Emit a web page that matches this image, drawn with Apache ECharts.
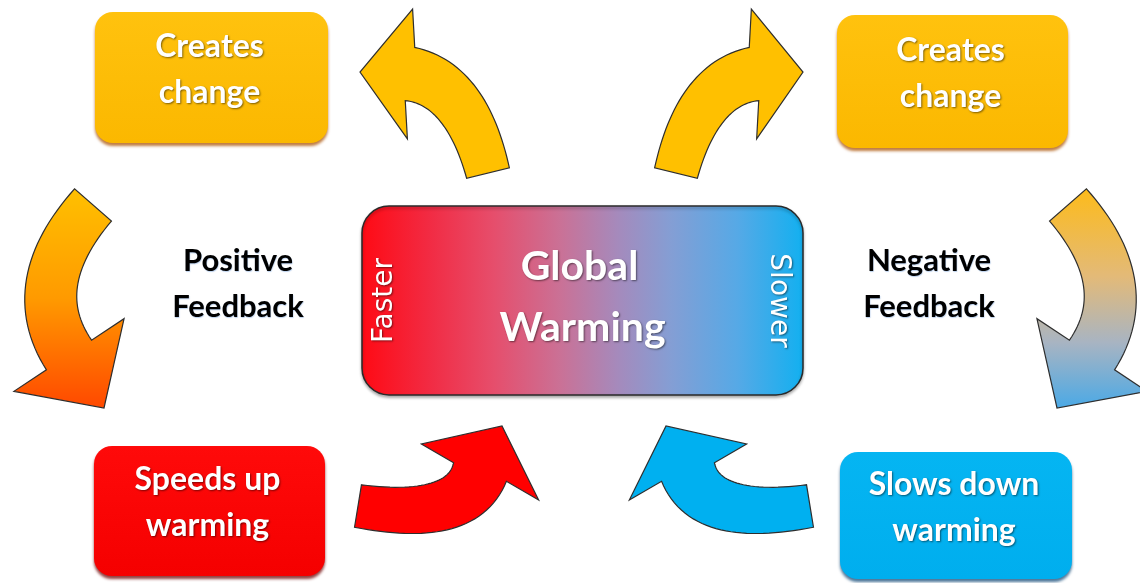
<!DOCTYPE html>
<html>
<head>
<meta charset="utf-8">
<title>Global warming feedback</title>
<script src="https://cdn.jsdelivr.net/npm/echarts@6/dist/echarts.min.js"></script>
<style>
  html, body { margin: 0; padding: 0; background: #fff; }
  #chart { width: 1140px; height: 583px; }
</style>
</head>
<body>
<div id="chart"></div>
<script>
  // texts of the diagram
  var boxLabels = [["Creates", "change"], ["Creates", "change"], ["Speeds up", "warming"], ["Slows down", "warming"]];
  var centreLabel = ["Global", "Warming"];
  var speedLabels = ["Faster", "Slower"];
  var loopLabels = [["Positive", "Feedback"], ["Negative", "Feedback"]];
  var arrowNames = ["toChangeLeft", "toChangeRight", "downLeft", "downRight", "speedsUp", "slowsDown"];

  // layout, in diagram units (one unit = one pixel of the 1140x583 page)
  var boxLayout = [
    { x: 95, y: 12, w: 233, h: 131, theme: "orange" },
    { x: 837, y: 15, w: 231, h: 133, theme: "orange" },
    { x: 94, y: 446, w: 231, h: 130, theme: "red" },
    { x: 840, y: 452, w: 232, h: 127, theme: "blue" }
  ];
  var centreLayout = { x: 362, y: 206, w: 441, h: 189 };
  var loopLayout = [{ x: 238, y: 261 }, { x: 929, y: 261 }];
  var arrowLayout = [
    { p0: [488, 173], p1: [466, 84], p2: [410, 74], tip: [360, 72], w0: 44, w1: 54, hw: 65, fill: "orange" },
    { p0: [676, 173], p1: [698, 84], p2: [754, 74], tip: [803, 72], w0: 44, w1: 54, hw: 65, fill: "orange" },
    { p0: [93, 205], p1: [23, 285], p2: [69, 355], tip: [104, 408], w0: 49, w1: 54, hw: 66, fill: "hot" },
    { p0: [1068, 205], p1: [1138, 285], p2: [1092, 355], tip: [1057, 408], w0: 49, w1: 54, hw: 66, fill: "mixed" },
    { p0: [358, 506], p1: [462, 523], p2: [480, 472], tip: [502, 426], w0: 43, w1: 56, hw: 65, fill: "red" },
    { p0: [810, 506], p1: [706, 523], p2: [688, 472], tip: [666, 426], w0: 43, w1: 56, hw: 65, fill: "blue" }
  ];

  var G = echarts.graphic;
  var themes = {
    orange: { top: "#FFC20E", bottom: "#FBB800", shadow: "rgba(170,80,0,0.75)" },
    red: { top: "#FF0A0A", bottom: "#F50000", shadow: "rgba(110,0,0,0.75)" },
    blue: { top: "#05B5F2", bottom: "#00AEEE", shadow: "rgba(0,60,110,0.7)" }
  };
  var arrowFills = {
    orange: "#FFC000",
    red: "#FF0000",
    blue: "#00B0F0",
    hot: new G.LinearGradient(0, 0, 0, 1, [
      { offset: 0, color: "#FFC000" }, { offset: 0.5, color: "#FF9A00" }, { offset: 1, color: "#FF4800" }
    ]),
    mixed: new G.LinearGradient(0, 0, 0, 1, [
      { offset: 0, color: "#FDBB1A" }, { offset: 0.4, color: "#E3BA78" },
      { offset: 0.7, color: "#A8B4C2" }, { offset: 1, color: "#4AA9E6" }
    ])
  };
  var whiteText = {
    fill: "#fff", align: "center", verticalAlign: "middle",
    textShadowColor: "rgba(0,0,0,0.5)", textShadowBlur: 2, textShadowOffsetX: 1, textShadowOffsetY: 1
  };

  function textEl(api, px, py, str, font, base, rot) {
    var p = api.coord([px, py]);
    return {
      type: "text", x: p[0], y: p[1], rotation: rot || 0,
      style: Object.assign({}, base, { text: str, font: font })
    };
  }

  function arrowPoints(a) {
    var left = [], right = [], N = 32;
    for (var i = 0; i <= N; i++) {
      var t = i / N, u = 1 - t;
      var x = u * u * a.p0[0] + 2 * u * t * a.p1[0] + t * t * a.p2[0];
      var y = u * u * a.p0[1] + 2 * u * t * a.p1[1] + t * t * a.p2[1];
      var dx = 2 * u * (a.p1[0] - a.p0[0]) + 2 * t * (a.p2[0] - a.p1[0]);
      var dy = 2 * u * (a.p1[1] - a.p0[1]) + 2 * t * (a.p2[1] - a.p1[1]);
      var len = Math.sqrt(dx * dx + dy * dy);
      dx /= len; dy /= len;
      var w = (a.w0 + (a.w1 - a.w0) * t) / 2;
      left.push([x + dy * w, y - dx * w]);
      right.push([x - dy * w, y + dx * w]);
    }
    var hx = a.tip[0] - a.p2[0], hy = a.tip[1] - a.p2[1];
    var hl = Math.sqrt(hx * hx + hy * hy);
    hx /= hl; hy /= hl;
    var headL = [a.p2[0] + hy * a.hw, a.p2[1] - hx * a.hw];
    var headR = [a.p2[0] - hy * a.hw, a.p2[1] + hx * a.hw];
    return left.concat([headL, a.tip, headR], right.reverse());
  }

  var chart = echarts.init(document.getElementById("chart"));
  chart.setOption({
    animation: false,
    backgroundColor: "#fff",
    grid: { left: 0, right: 0, top: 0, bottom: 0 },
    xAxis: { type: "value", min: 0, max: 1140, show: false },
    yAxis: { type: "value", min: 0, max: 583, inverse: true, show: false },
    series: [
      {
        name: "arrows",
        type: "custom",
        coordinateSystem: "cartesian2d",
        clip: false,
        silent: true,
        data: arrowNames.map(function (n, i) { return [i, 0]; }),
        renderItem: function (params, api) {
          var a = arrowLayout[params.dataIndex];
          var pts = arrowPoints(a).map(function (p) { return api.coord(p); });
          return {
            type: "polygon",
            shape: { points: pts },
            style: { fill: arrowFills[a.fill], stroke: "#2e2e2e", lineWidth: 1.2 }
          };
        }
      },
      {
        name: "boxes",
        type: "custom",
        coordinateSystem: "cartesian2d",
        clip: false,
        silent: true,
        data: boxLabels.map(function (l, i) { return [i, 0]; }),
        renderItem: function (params, api) {
          var b = boxLayout[params.dataIndex];
          var th = themes[b.theme];
          var lines = boxLabels[params.dataIndex];
          var p1 = api.coord([b.x, b.y]);
          var p2 = api.coord([b.x + b.w, b.y + b.h]);
          var cx = b.x + b.w / 2, cy = b.y + b.h / 2;
          return {
            type: "group",
            children: [
              {
                type: "rect",
                shape: { x: p1[0], y: p1[1], width: p2[0] - p1[0], height: p2[1] - p1[1], r: 18 },
                style: {
                  fill: new G.LinearGradient(0, 0, 0, 1, [{ offset: 0, color: th.top }, { offset: 1, color: th.bottom }]),
                  shadowColor: th.shadow, shadowBlur: 3, shadowOffsetY: 3
                }
              },
              textEl(api, cx - 2, cy - 31, lines[0], "bold 32px Lato", whiteText),
              textEl(api, cx - 2, cy + 15, lines[1], "bold 32px Lato", whiteText)
            ]
          };
        }
      },
      {
        name: "centre",
        type: "custom",
        coordinateSystem: "cartesian2d",
        clip: false,
        silent: true,
        data: [[0, 0]],
        renderItem: function (params, api) {
          var c = centreLayout;
          var p1 = api.coord([c.x, c.y]);
          var p2 = api.coord([c.x + c.w, c.y + c.h]);
          var cx = c.x + c.w / 2, cy = c.y + c.h / 2;
          return {
            type: "group",
            children: [
              {
                type: "rect",
                shape: { x: p1[0], y: p1[1], width: p2[0] - p1[0], height: p2[1] - p1[1], r: 27 },
                style: {
                  fill: new G.LinearGradient(0, 0, 1, 0, [
                    { offset: 0, color: "#FF0A14" }, { offset: 0.15, color: "#F22A42" },
                    { offset: 0.3, color: "#E64E6C" }, { offset: 0.45, color: "#CA7196" },
                    { offset: 0.58, color: "#A58ABC" }, { offset: 0.7, color: "#849ED4" },
                    { offset: 0.85, color: "#56A9E6" }, { offset: 1, color: "#12B0F0" }
                  ]),
                  stroke: "#2a2a2a", lineWidth: 1.5,
                  shadowColor: "rgba(0,0,0,0.3)", shadowBlur: 3, shadowOffsetY: 2
                }
              },
              textEl(api, cx - 3, cy - 34, centreLabel[0], "bold 41px Lato", whiteText),
              textEl(api, cx, cy + 27, centreLabel[1], "bold 41px Lato", whiteText),
              textEl(api, c.x + 23, cy, speedLabels[0], "28px 'DejaVu Sans'", whiteText, Math.PI / 2),
              textEl(api, c.x + c.w - 25, cy, speedLabels[1], "28px 'DejaVu Sans'", whiteText, -Math.PI / 2)
            ]
          };
        }
      },
      {
        name: "loops",
        type: "custom",
        coordinateSystem: "cartesian2d",
        clip: false,
        silent: true,
        data: loopLabels.map(function (l, i) { return [i, 0]; }),
        renderItem: function (params, api) {
          var l = loopLayout[params.dataIndex];
          var lines = loopLabels[params.dataIndex];
          var dark = {
            fill: "#000", align: "center", verticalAlign: "middle",
            textShadowColor: "rgba(60,120,200,0.35)", textShadowBlur: 1, textShadowOffsetX: 0.5, textShadowOffsetY: 0.5
          };
          return {
            type: "group",
            children: [
              textEl(api, l.x, l.y, lines[0], "bold 31px Lato", dark),
              textEl(api, l.x, l.y + 46, lines[1], "bold 31px Lato", dark)
            ]
          };
        }
      }
    ]
  });
</script>
</body>
</html>
